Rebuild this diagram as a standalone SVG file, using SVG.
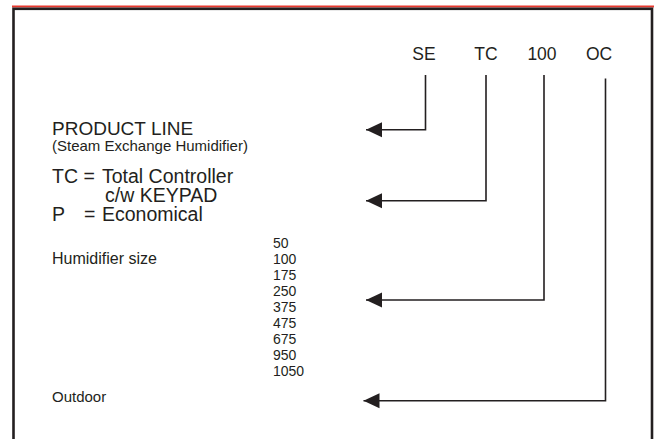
<svg xmlns="http://www.w3.org/2000/svg" width="657" height="439" viewBox="0 0 657 439">
<defs>
<style>
.t{font-family:"Liberation Sans",Arial,sans-serif;fill:#231f20}
.hd{font-size:17.5px}
.big{font-size:19px}
.tc{font-size:19.5px}
.mid{font-size:15px}
.hs{font-size:16px}
.num{font-size:14px}
.conn{fill:none;stroke:#231f20;stroke-width:1.6}
</style>
<marker id="ah" markerUnits="userSpaceOnUse" markerWidth="17" markerHeight="16" refX="16" refY="8" orient="auto" viewBox="0 0 17 16">
<path d="M0,0.5 L16,8 L0,15.5 Z" fill="#231f20"/>
</marker>
</defs>
<rect width="657" height="439" fill="#ffffff"/>
<line x1="12" y1="6.5" x2="654" y2="6.5" stroke="#e8392f" stroke-width="2"/>
<rect x="13.5" y="8.8" width="638.5" height="440" fill="none" stroke="#231f20" stroke-width="2.6"/>

<g id="code">
<text class="t hd" x="424" y="60" text-anchor="middle">SE</text>
<text class="t hd" x="486" y="60" text-anchor="middle">TC</text>
<text class="t hd" x="542" y="60" text-anchor="middle">100</text>
<text class="t hd" x="599" y="60" text-anchor="middle">OC</text>
</g>

<g id="product-line">
<text class="t big" x="52" y="134.5">PRODUCT LINE</text>
<text class="t mid" x="52" y="151">(Steam Exchange Humidifier)</text>
</g>

<g id="controller">
<text class="t tc"><tspan x="52" y="182.5">TC =</tspan><tspan x="102" y="182.5">Total Controller</tspan><tspan x="105" y="201.5">c/w KEYPAD</tspan><tspan x="52" y="220.5">P</tspan><tspan x="84" y="220.5">=</tspan><tspan x="102" y="220.5">Economical</tspan></text>
</g>

<g id="size">
<text class="t hs" x="52" y="263.5">Humidifier size</text>
<text class="t num"><tspan x="273" y="247.5">50</tspan><tspan x="273" y="263.5">100</tspan><tspan x="273" y="279.5">175</tspan><tspan x="273" y="295.5">250</tspan><tspan x="273" y="311.5">375</tspan><tspan x="273" y="327.5">475</tspan><tspan x="273" y="343.5">675</tspan><tspan x="273" y="359.5">950</tspan><tspan x="273" y="376">1050</tspan></text>
</g>

<g id="outdoor">
<text class="t mid" x="52" y="402">Outdoor</text>
</g>

<g id="connectors">
<path class="conn" d="M425.5,75 V129.8 H366" marker-end="url(#ah)"/>
<path class="conn" d="M486,75 V200.7 H366" marker-end="url(#ah)"/>
<path class="conn" d="M544,75 V300 H366" marker-end="url(#ah)"/>
<path class="conn" d="M605.5,78.5 V400.7 H363.5" marker-end="url(#ah)"/>
</g>
</svg>
